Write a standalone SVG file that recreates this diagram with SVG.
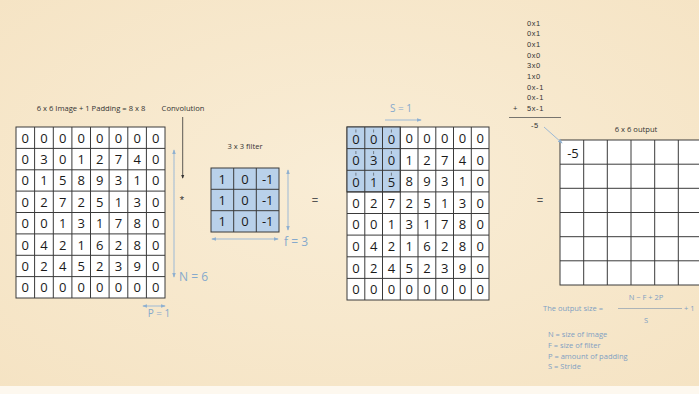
<svg xmlns="http://www.w3.org/2000/svg" width="699" height="394" viewBox="0 0 699 394">
<defs>
<radialGradient id="bg" cx="0.5" cy="0.45" r="0.75">
<stop offset="0" stop-color="#f9edd6"/>
<stop offset="1" stop-color="#f5e3c3"/>
</radialGradient>
<marker id="ab" viewBox="0 0 6 6" refX="5" refY="3" markerWidth="5" markerHeight="5" orient="auto-start-reverse"><path d="M0,0.8 L6,3 L0,5.2 z" fill="#8fb0d0"/></marker>
<marker id="ad" viewBox="0 0 6 6" refX="5" refY="3" markerWidth="5" markerHeight="5" orient="auto"><path d="M0,0.5 L6,3 L0,5.5 z" fill="#333"/></marker>
<style>
.cell{fill:#fff;stroke:#3a3a3a;stroke-width:1}
.hl{fill:#b9d1ea;stroke:#3a3a3a;stroke-width:1}
.num{font-family:"Open Sans","Liberation Sans",sans-serif;font-size:13px;fill:#1a1a1a;text-anchor:middle;dominant-baseline:central}
.small{font-family:"Open Sans","Liberation Sans",sans-serif;font-size:7.6px;fill:#333;text-anchor:middle}
.blue{font-family:"Open Sans","Liberation Sans",sans-serif;fill:#86a9cc}
.calc{font-family:"Liberation Sans",sans-serif;font-size:7.5px;fill:#333;letter-spacing:0.6px}
.leg{font-family:"Open Sans","Liberation Sans",sans-serif;font-size:7.5px;fill:#7f9fc2}
.bl{stroke:#9cb9d6;stroke-width:1;fill:none}
.tick{stroke:#444;stroke-width:0.6}
</style>
</defs>
<rect width="699" height="394" fill="url(#bg)"/>
<rect y="386" width="699" height="8" fill="#fdf8ef"/>

<text class="small" x="91" y="111">6 x 6 Image + 1 Padding = 8 x 8</text>
<text class="small" x="183" y="111">Convolution</text>

<g id="image-grid">
<g>
<rect class="cell" x="16" y="127" width="149" height="171"/>
<path d="M34.6,127V298M53.3,127V298M71.9,127V298M90.5,127V298M109.1,127V298M127.8,127V298M146.4,127V298M16,148.4H165M16,169.8H165M16,191.1H165M16,212.5H165M16,233.9H165M16,255.3H165M16,276.6H165" stroke="#3a3a3a" stroke-width="1" fill="none"/>
</g>
<g class="nums">
<text class="num" x="25.3" y="137.7">0</text><text class="num" x="43.9" y="137.7">0</text><text class="num" x="62.6" y="137.7">0</text><text class="num" x="81.2" y="137.7">0</text><text class="num" x="99.8" y="137.7">0</text><text class="num" x="118.4" y="137.7">0</text><text class="num" x="137.1" y="137.7">0</text><text class="num" x="155.7" y="137.7">0</text>
<text class="num" x="25.3" y="159.1">0</text><text class="num" x="43.9" y="159.1">3</text><text class="num" x="62.6" y="159.1">0</text><text class="num" x="81.2" y="159.1">1</text><text class="num" x="99.8" y="159.1">2</text><text class="num" x="118.4" y="159.1">7</text><text class="num" x="137.1" y="159.1">4</text><text class="num" x="155.7" y="159.1">0</text>
<text class="num" x="25.3" y="180.4">0</text><text class="num" x="43.9" y="180.4">1</text><text class="num" x="62.6" y="180.4">5</text><text class="num" x="81.2" y="180.4">8</text><text class="num" x="99.8" y="180.4">9</text><text class="num" x="118.4" y="180.4">3</text><text class="num" x="137.1" y="180.4">1</text><text class="num" x="155.7" y="180.4">0</text>
<text class="num" x="25.3" y="201.8">0</text><text class="num" x="43.9" y="201.8">2</text><text class="num" x="62.6" y="201.8">7</text><text class="num" x="81.2" y="201.8">2</text><text class="num" x="99.8" y="201.8">5</text><text class="num" x="118.4" y="201.8">1</text><text class="num" x="137.1" y="201.8">3</text><text class="num" x="155.7" y="201.8">0</text>
<text class="num" x="25.3" y="223.2">0</text><text class="num" x="43.9" y="223.2">0</text><text class="num" x="62.6" y="223.2">1</text><text class="num" x="81.2" y="223.2">3</text><text class="num" x="99.8" y="223.2">1</text><text class="num" x="118.4" y="223.2">7</text><text class="num" x="137.1" y="223.2">8</text><text class="num" x="155.7" y="223.2">0</text>
<text class="num" x="25.3" y="244.6">0</text><text class="num" x="43.9" y="244.6">4</text><text class="num" x="62.6" y="244.6">2</text><text class="num" x="81.2" y="244.6">1</text><text class="num" x="99.8" y="244.6">6</text><text class="num" x="118.4" y="244.6">2</text><text class="num" x="137.1" y="244.6">8</text><text class="num" x="155.7" y="244.6">0</text>
<text class="num" x="25.3" y="265.9">0</text><text class="num" x="43.9" y="265.9">2</text><text class="num" x="62.6" y="265.9">4</text><text class="num" x="81.2" y="265.9">5</text><text class="num" x="99.8" y="265.9">2</text><text class="num" x="118.4" y="265.9">3</text><text class="num" x="137.1" y="265.9">9</text><text class="num" x="155.7" y="265.9">0</text>
<text class="num" x="25.3" y="287.3">0</text><text class="num" x="43.9" y="287.3">0</text><text class="num" x="62.6" y="287.3">0</text><text class="num" x="81.2" y="287.3">0</text><text class="num" x="99.8" y="287.3">0</text><text class="num" x="118.4" y="287.3">0</text><text class="num" x="137.1" y="287.3">0</text><text class="num" x="155.7" y="287.3">0</text>
</g>
</g>

<g id="filter">
<text class="small" x="245" y="149">3 x 3 filter</text>
<rect class="hl" x="211" y="168" width="68" height="64"/>
<path d="M233.7,168V232M256.3,168V232M211,189.3H279M211,210.7H279" stroke="#3a3a3a" stroke-width="1" fill="none"/>
<text class="num" x="222.3" y="178.7">1</text><text class="num" x="245" y="178.7">0</text><text class="num" x="267.7" y="178.7">-1</text>
<text class="num" x="222.3" y="200">1</text><text class="num" x="245" y="200">0</text><text class="num" x="267.7" y="200">-1</text>
<text class="num" x="222.3" y="221.3">1</text><text class="num" x="245" y="221.3">0</text><text class="num" x="267.7" y="221.3">-1</text>
</g>

<g id="padded-grid">
<rect class="cell" x="347" y="127" width="142" height="173"/>
<rect class="hl" x="347" y="127" width="53.3" height="64.9"/>
<path d="M364.8,127V300M382.5,127V300M400.3,127V300M418,127V300M435.8,127V300M453.5,127V300M471.3,127V300M347,148.6H489M347,170.3H489M347,191.9H489M347,213.5H489M347,235.1H489M347,256.8H489M347,278.4H489" stroke="#3a3a3a" stroke-width="1" fill="none"/>
<path class="tick" d="M355.9,129.5v3M373.6,129.5v3M391.4,129.5v3M355.9,151v3M373.6,151v3M391.4,151v3M355.9,172.7v3M373.6,172.7v3M391.4,172.7v3"/>
<text class="num" x="355.9" y="138.8">0</text><text class="num" x="373.6" y="138.8">0</text><text class="num" x="391.4" y="138.8">0</text><text class="num" x="409.1" y="137.8">0</text><text class="num" x="426.9" y="137.8">0</text><text class="num" x="444.6" y="137.8">0</text><text class="num" x="462.4" y="137.8">0</text><text class="num" x="480.1" y="137.8">0</text>
<text class="num" x="355.9" y="160.4">0</text><text class="num" x="373.6" y="160.4">3</text><text class="num" x="391.4" y="160.4">0</text><text class="num" x="409.1" y="159.5">1</text><text class="num" x="426.9" y="159.5">2</text><text class="num" x="444.6" y="159.5">7</text><text class="num" x="462.4" y="159.5">4</text><text class="num" x="480.1" y="159.5">0</text>
<text class="num" x="355.9" y="182">0</text><text class="num" x="373.6" y="182">1</text><text class="num" x="391.4" y="182">5</text><text class="num" x="409.1" y="181.1">8</text><text class="num" x="426.9" y="181.1">9</text><text class="num" x="444.6" y="181.1">3</text><text class="num" x="462.4" y="181.1">1</text><text class="num" x="480.1" y="181.1">0</text>
<text class="num" x="355.9" y="202.7">0</text><text class="num" x="373.6" y="202.7">2</text><text class="num" x="391.4" y="202.7">7</text><text class="num" x="409.1" y="202.7">2</text><text class="num" x="426.9" y="202.7">5</text><text class="num" x="444.6" y="202.7">1</text><text class="num" x="462.4" y="202.7">3</text><text class="num" x="480.1" y="202.7">0</text>
<text class="num" x="355.9" y="224.3">0</text><text class="num" x="373.6" y="224.3">0</text><text class="num" x="391.4" y="224.3">1</text><text class="num" x="409.1" y="224.3">3</text><text class="num" x="426.9" y="224.3">1</text><text class="num" x="444.6" y="224.3">7</text><text class="num" x="462.4" y="224.3">8</text><text class="num" x="480.1" y="224.3">0</text>
<text class="num" x="355.9" y="246">0</text><text class="num" x="373.6" y="246">4</text><text class="num" x="391.4" y="246">2</text><text class="num" x="409.1" y="246">1</text><text class="num" x="426.9" y="246">6</text><text class="num" x="444.6" y="246">2</text><text class="num" x="462.4" y="246">8</text><text class="num" x="480.1" y="246">0</text>
<text class="num" x="355.9" y="267.6">0</text><text class="num" x="373.6" y="267.6">2</text><text class="num" x="391.4" y="267.6">4</text><text class="num" x="409.1" y="267.6">5</text><text class="num" x="426.9" y="267.6">2</text><text class="num" x="444.6" y="267.6">3</text><text class="num" x="462.4" y="267.6">9</text><text class="num" x="480.1" y="267.6">0</text>
<text class="num" x="355.9" y="289.2">0</text><text class="num" x="373.6" y="289.2">0</text><text class="num" x="391.4" y="289.2">0</text><text class="num" x="409.1" y="289.2">0</text><text class="num" x="426.9" y="289.2">0</text><text class="num" x="444.6" y="289.2">0</text><text class="num" x="462.4" y="289.2">0</text><text class="num" x="480.1" y="289.2">0</text>
</g>

<g id="calculation">
<text class="calc" x="527" y="25.5">0x1</text>
<text class="calc" x="527" y="36.2">0x1</text>
<text class="calc" x="527" y="46.9">0x1</text>
<text class="calc" x="527" y="57.6">0x0</text>
<text class="calc" x="527" y="68.3">3x0</text>
<text class="calc" x="527" y="79">1x0</text>
<text class="calc" x="527" y="89.7">0x-1</text>
<text class="calc" x="527" y="100.4">0x-1</text>
<text class="calc" x="527" y="111.1">5x-1</text>
<text class="calc" x="513" y="111.3" font-size="9">+</text>
<line x1="509" y1="117.5" x2="561" y2="117.5" stroke="#555" stroke-width="0.8"/>
<text class="calc" x="531" y="128">-5</text>
</g>

<g id="output-grid">
<text class="small" x="636" y="132">6 x 6 output</text>
<rect class="cell" x="560" y="140" width="142" height="145"/>
<path d="M583.7,140V285M607.3,140V285M631,140V285M654.7,140V285M678.3,140V285M560,164.2H702M560,188.3H702M560,212.5H702M560,236.7H702M560,260.8H702" stroke="#3a3a3a" stroke-width="1" fill="none"/>
<text class="num" x="573" y="153" font-size="11.5">-5</text>
</g>

<g id="formula">
<text class="leg" x="543" y="310.5" fill="#8c9db0">The output size =</text>
<text class="leg" x="646" y="300" text-anchor="middle" fill="#8c9db0">N − F + 2P</text>
<line x1="618" y1="308.5" x2="682" y2="308.5" stroke="#8c9db0" stroke-width="0.7"/>
<text class="leg" x="646" y="322.5" text-anchor="middle" fill="#8c9db0">S</text>
<text class="leg" x="684" y="310.5" fill="#8c9db0">+ 1</text>
<text class="leg" x="548" y="337">N = size of image</text>
<text class="leg" x="548" y="348">F = size of filter</text>
<text class="leg" x="548" y="358.5">P = amount of padding</text>
<text class="leg" x="548" y="369">S = Stride</text>
</g>

<g id="connectors">
<line x1="182.7" y1="117" x2="182.7" y2="178" stroke="#333" stroke-width="0.8" marker-end="url(#ad)"/>
<line class="bl" x1="174" y1="150" x2="174" y2="277" marker-start="url(#ab)" marker-end="url(#ab)"/>
<line class="bl" x1="143" y1="306" x2="165" y2="306" marker-start="url(#ab)" marker-end="url(#ab)"/>
<line class="bl" x1="288" y1="170" x2="288" y2="230" marker-start="url(#ab)" marker-end="url(#ab)"/>
<line class="bl" x1="212" y1="239" x2="278" y2="239" marker-start="url(#ab)" marker-end="url(#ab)"/>
<line class="bl" x1="385" y1="120" x2="421" y2="120" marker-end="url(#ab)"/>
<line class="bl" x1="544" y1="127" x2="562" y2="143" marker-end="url(#ab)"/>
</g>

<text x="182" y="204" font-family="Liberation Sans, sans-serif" font-size="11" fill="#333" text-anchor="middle">*</text>
<text x="315" y="204" font-family="Liberation Sans, sans-serif" font-size="11" fill="#555" text-anchor="middle">=</text>
<text x="540" y="204" font-family="Liberation Sans, sans-serif" font-size="11" fill="#555" text-anchor="middle">=</text>
<text class="blue" x="179" y="281" font-size="12">N = 6</text>
<text class="blue" x="284" y="246" font-size="12">f = 3</text>
<text class="blue" x="159" y="317" font-size="10" text-anchor="middle">P = 1</text>
<text class="blue" x="401" y="112" font-size="10" text-anchor="middle">S = 1</text>
</svg>
